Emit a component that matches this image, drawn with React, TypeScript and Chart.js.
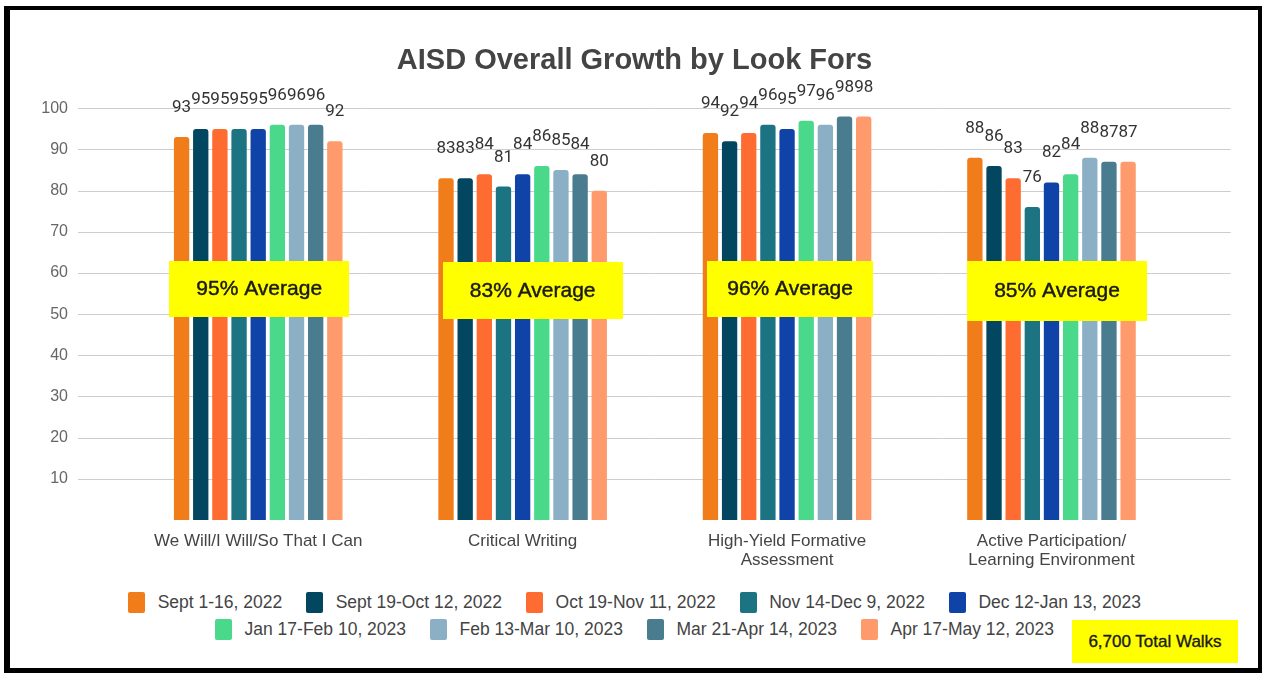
import React, { useEffect, useRef } from "react";
import { Chart, registerables } from "chart.js";

Chart.register(...registerables);

// ---------- data ----------
const categories: string[][] = [
  ["We Will/I Will/So That I Can"],
  ["Critical Writing"],
  ["High-Yield Formative", "Assessment"],
  ["Active Participation/", "Learning Environment"],
];

const seriesNames = [
  "Sept 1-16, 2022",
  "Sept 19-Oct 12, 2022",
  "Oct 19-Nov 11, 2022",
  "Nov 14-Dec 9, 2022",
  "Dec 12-Jan 13, 2023",
  "Jan 17-Feb 10, 2023",
  "Feb 13-Mar 10, 2023",
  "Mar 21-Apr 14, 2023",
  "Apr 17-May 12, 2023",
];

const sept1to16 = [93, 83, 94, 88];
const sept19toOct12 = [95, 83, 92, 86];
const oct19toNov11 = [95, 84, 94, 83];
const nov14toDec9 = [95, 81, 96, 76];
const dec12toJan13 = [95, 84, 95, 82];
const jan17toFeb10 = [96, 86, 97, 84];
const feb13toMar10 = [96, 85, 96, 88];
const mar21toApr14 = [96, 84, 98, 87];
const apr17toMay12 = [92, 80, 98, 87];

const seriesValues = [
  sept1to16,
  sept19toOct12,
  oct19toNov11,
  nov14toDec9,
  dec12toJan13,
  jan17toFeb10,
  feb13toMar10,
  mar21toApr14,
  apr17toMay12,
];

const averageLabels = ["95% Average", "83% Average", "96% Average", "85% Average"];
const totalWalksLabel = "6,700 Total Walks";
const chartTitle = "AISD Overall Growth by Look Fors";
const yMin = 0;
const yMax = 100;
const yStep = 10;

// ---------- styles ----------
const seriesColors = [
  "#F07D19",
  "#02465F",
  "#FE6C31",
  "#1C7482",
  "#1043A8",
  "#4AD98A",
  "#8BB0C6",
  "#4A7C90",
  "#FE9A6C",
];

// average callout boxes: offset from category centre (px), size, vertical centre (axis value)
const averageBoxStyle = [
  { dx: 1, w: 180, h: 56, yValue: 56.2 },
  { dx: 10, w: 180, h: 57, yValue: 55.7 },
  { dx: 3, w: 166, h: 56, yValue: 56.2 },
  { dx: 5.5, w: 180, h: 60, yValue: 55.7 },
];

const FONT = "'Liberation Sans', Arial, sans-serif";
const CANVAS_W = 1247;
const CANVAS_H = 568;

const titlePlugin = {
  id: "centredTitle",
  afterDraw(chart: any) {
    const { ctx } = chart;
    ctx.save();
    ctx.font = "bold 29px " + FONT;
    ctx.fillStyle = "#444444";
    ctx.textAlign = "center";
    ctx.textBaseline = "alphabetic";
    ctx.fillText(chartTitle, chart.width / 2, 56.5);
    ctx.restore();
  },
};

const gridExtendPlugin = {
  id: "gridExtend",
  beforeDatasetsDraw(chart: any) {
    const { ctx, chartArea, scales } = chart;
    const y = scales.y;
    ctx.save();
    ctx.strokeStyle = "#cdcdcd";
    ctx.lineWidth = 1;
    y.ticks.forEach((t: any) => {
      if (t.value <= yMin) return;
      const py = Math.round(y.getPixelForValue(t.value)) + 0.5;
      ctx.beginPath();
      ctx.moveTo(chartArea.left - 48, py);
      ctx.lineTo(chartArea.right + 47, py);
      ctx.stroke();
    });
    ctx.restore();
  },
};

const valueLabelPlugin = {
  id: "valueLabels",
  afterDatasetsDraw(chart: any) {
    const { ctx } = chart;
    ctx.save();
    ctx.font = "17px Roboto, " + FONT;
    ctx.fillStyle = "#333333";
    ctx.textAlign = "center";
    ctx.textBaseline = "alphabetic";
    chart.data.datasets.forEach((ds: any, i: number) => {
      const meta = chart.getDatasetMeta(i);
      meta.data.forEach((bar: any, j: number) => {
        ctx.fillText(String(ds.data[j]), bar.x, bar.y - 25);
      });
    });
    ctx.restore();
  },
};

const averageBoxPlugin = {
  id: "averageBoxes",
  afterDraw(chart: any) {
    const { ctx, scales } = chart;
    ctx.save();
    averageLabels.forEach((label, j) => {
      const st = averageBoxStyle[j];
      const cx = scales.x.getPixelForValue(j) + st.dx;
      const cy = scales.y.getPixelForValue(st.yValue);
      ctx.fillStyle = "#FFFF00";
      ctx.fillRect(Math.round(cx - st.w / 2), Math.round(cy - st.h / 2), st.w, st.h);
      ctx.fillStyle = "#1a1a1a";
      ctx.strokeStyle = "#1a1a1a";
      ctx.lineWidth = 0.45;
      ctx.font = "21px " + FONT;
      ctx.textAlign = "center";
      ctx.textBaseline = "middle";
      ctx.fillText(label, cx, cy + 1);
      ctx.strokeText(label, cx, cy + 1);
    });
    ctx.restore();
  },
};

export default function App() {
  const canvasRef = useRef<HTMLCanvasElement | null>(null);

  useEffect(() => {
    if (!canvasRef.current) return;
    Chart.defaults.font.family = FONT;
    const chart = new Chart(canvasRef.current, {
      type: "bar",
      data: {
        labels: categories,
        datasets: seriesNames.map((name, i) => ({
          label: name,
          data: seriesValues[i],
          backgroundColor: seriesColors[i],
          borderWidth: 0,
          borderRadius: 3,
          barPercentage: 0.8,
          categoryPercentage: 0.652,
        })),
      },
      options: {
        animation: false,
        responsive: false,
        maintainAspectRatio: false,
        devicePixelRatio: 1,
        layout: { padding: { left: 0, right: 74.3, top: 96.3, bottom: 0 } },
        plugins: {
          legend: { display: false },
          tooltip: { enabled: false },
          title: { display: false },
        },
        scales: {
          x: {
            grid: { display: false, drawTicks: false },
            border: { display: false },
            ticks: {
              color: "#444444",
              font: { family: FONT, size: 17, lineHeight: 1.12 },
              padding: 12,
              maxRotation: 0,
              autoSkip: false,
            },
            afterFit: (s: any) => {
              s.height = 60;
            },
          },
          y: {
            min: yMin,
            max: yMax,
            grid: { display: false, drawTicks: false },
            border: { display: false },
            ticks: {
              stepSize: yStep,
              color: "#666666",
              font: { family: FONT, size: 16 },
              padding: 58,
              callback: (v: any) => (Number(v) === yMin ? "" : String(v)),
            },
            afterFit: (s: any) => {
              s.width = 115;
              s.paddingTop = 0;
              s.paddingBottom = 0;
            },
          },
        },
      },
      plugins: [gridExtendPlugin, valueLabelPlugin, averageBoxPlugin, titlePlugin],
    });
    return () => chart.destroy();
  }, []);

  const legendRow = (from: number, to: number) => (
    <div
      style={{
        display: "flex",
        justifyContent: "center",
        alignItems: "center",
        height: 27,
      }}
    >
      {seriesNames.slice(from, to).map((name, k) => (
        <div
          key={name}
          style={{
            display: "flex",
            alignItems: "center",
            marginLeft: k === 0 ? 0 : 24,
          }}
        >
          <span
            style={{
              display: "inline-block",
              width: 17,
              height: 21,
              borderRadius: 2,
              background: seriesColors[from + k],
              marginRight: 12.5,
            }}
          />
          <span style={{ fontFamily: FONT, fontSize: 17.5, color: "#444444", whiteSpace: "nowrap" }}>
            {name}
          </span>
        </div>
      ))}
    </div>
  );

  return (
    <div>
      <div
        style={{
          position: "absolute",
          left: 4,
          top: 6,
          width: 1258,
          height: 667,
          boxSizing: "border-box",
          borderStyle: "solid",
          borderColor: "#000",
          borderLeftWidth: 6,
          borderTopWidth: 4,
          borderRightWidth: 4,
          borderBottomWidth: 5,
          background: "#fff",
        }}
      />
      <div style={{ position: "absolute", left: 11, top: 12, width: CANVAS_W, height: CANVAS_H }}>
        <canvas
          ref={canvasRef}
          width={CANVAS_W}
          height={CANVAS_H}
          style={{ display: "block", width: CANVAS_W, height: CANVAS_H }}
        />
      </div>
      <div style={{ position: "absolute", left: 11, top: 588.5, width: CANVAS_W }}>
        {legendRow(0, 5)}
        {legendRow(5, 9)}
      </div>
      <div
        style={{
          position: "absolute",
          left: 1072,
          top: 620,
          width: 166,
          height: 43,
          background: "#FFFF00",
          display: "flex",
          alignItems: "center",
          justifyContent: "center",
          fontFamily: FONT,
          fontSize: 17,
          color: "#1a1a1a",
          WebkitTextStroke: "0.35px #1a1a1a",
          whiteSpace: "nowrap",
        }}
      >
        {totalWalksLabel}
      </div>
    </div>
  );
}
